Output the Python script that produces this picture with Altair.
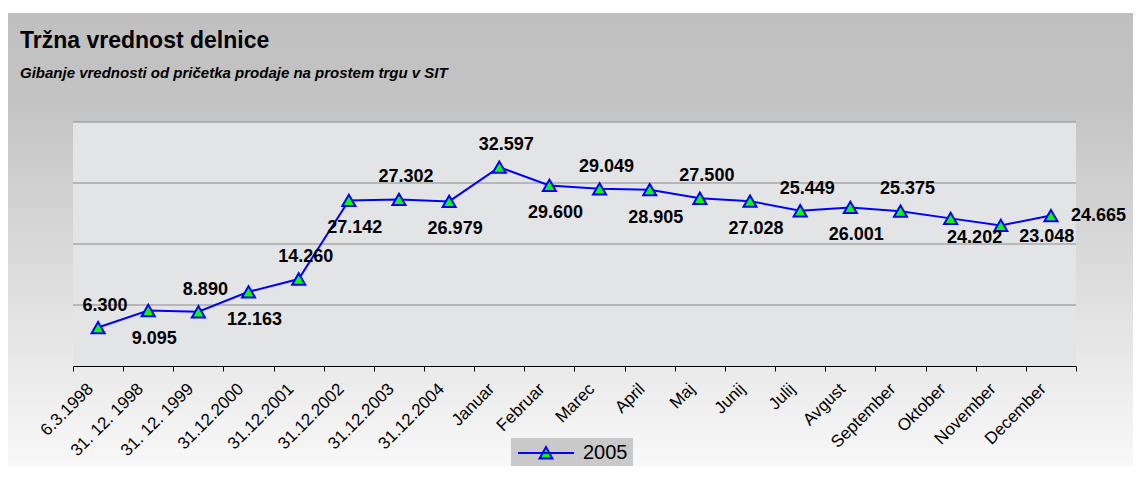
import altair as alt
import pandas as pd

categories = ["6.3.1998", "31. 12. 1998", "31. 12. 1999", "31.12.2000", "31.12.2001",
              "31.12.2002", "31.12.2003", "31.12.2004", "Januar", "Februar", "Marec",
              "April", "Maj", "Junij", "Julij", "Avgust", "September", "Oktober",
              "November", "December"]
values = [6300, 9095, 8890, 12163, 14260, 27142, 27302, 26979, 32597, 29600, 29049,
          28905, 27500, 27028, 25449, 26001, 25375, 24202, 23048, 24665]
label_place = ["above", "below", "above", "below", "above", "below", "above", "below",
               "above", "below", "above", "below", "above", "below", "above", "below",
               "above", "below2", "below3", "right"]
series_name = "2005"
grid_values = [10000, 20000, 30000, 40000]

df = pd.DataFrame({
    "cat": categories,
    "value": values,
    "label": [f"{v:,}".replace(",", ".") for v in values],
    "place": label_place,
    "series": [series_name] * len(values),
})
grid_df = pd.DataFrame({"g": grid_values})

W, H = 1003, 244
FONT = "Liberation Sans"

x_enc = alt.X("cat:N", sort=categories,
              scale=alt.Scale(paddingInner=0, paddingOuter=0),
              axis=alt.Axis(title=None, labelAngle=-45, labelAlign="right",
                            labelBaseline="middle", labelFontSize=17, labelFont=FONT,
                            labelColor="black", domainColor="#000000", tickColor="#000000",
                            tickSize=5, tickBand="extent", grid=False, zindex=1,
                            labelOffset=-8, labelPadding=15))
y_scale = alt.Scale(domain=[0, 40000], nice=False, zero=True)
y_enc = alt.Y("value:Q", scale=y_scale, axis=None)

base = alt.Chart(df)

bg = base.mark_rect(
    clip=False,
    fill=alt.Gradient(gradient="linear",
                      stops=[alt.GradientStop(color="#c0c0c0", offset=0),
                             alt.GradientStop(color="#c3c3c3", offset=0.18),
                             alt.GradientStop(color="#fafafa", offset=1)],
                      x1=0, x2=0, y1=0, y2=1),
).encode(x=alt.value(-66), x2=alt.value(W + 60), y=alt.value(-109), y2=alt.value(H + 113))

plot_bg = base.mark_rect(fill="#e3e4e6").encode(
    x=alt.value(0), x2=alt.value(W), y=alt.value(0), y2=alt.value(H))

grid = alt.Chart(grid_df).mark_rule(color="#8a8a8a", strokeWidth=1).encode(
    y=alt.Y("g:Q", scale=y_scale, axis=None))

line = base.mark_line(color="#0000ff", strokeWidth=2).encode(x=x_enc, y=y_enc)

points = base.mark_point(shape="triangle-up", filled=True, fill="#00ff00",
                         strokeWidth=2, size=170, opacity=1).encode(
    x=alt.X("cat:N", sort=categories),
    y=y_enc,
    stroke=alt.Stroke("series:N", scale=alt.Scale(range=["#0000ff"]),
                      legend=alt.Legend(orient="none", legendX=438, legendY=316, title=None,
                                        symbolType="M-3.5,0H3.5M-0.8,0.7L0,-0.75L0.8,0.7Z",
                                        symbolSize=256, symbolStrokeWidth=2,
                                        symbolFillColor="#00ff00", symbolStrokeColor="#0000ff",
                                        symbolOffset=20,
                                        labelFontSize=20, labelFont=FONT, labelColor="black",
                                        fillColor="#c9c9c9", padding=5, labelOffset=27)),
)

def labels(place, dx, dy, align="center"):
    return base.transform_filter(alt.datum.place == place).mark_text(
        font=FONT, fontSize=18, fontWeight="bold", color="black",
        align=align, baseline="middle", dx=dx, dy=dy,
    ).encode(x=alt.X("cat:N", sort=categories), y=y_enc, text="label:N")

chart = alt.layer(
    bg, plot_bg, grid, line, points,
    labels("above", 7, -22), labels("below", 6, 28),
    labels("below2", 24, 20), labels("below3", 46, 12),
    labels("right", 20, 0, "left"),
).properties(
    width=W, height=H,
    title=alt.TitleParams(
        text="Tržna vrednost delnice",
        subtitle="Gibanje vrednosti od pričetka prodaje na prostem trgu v SIT",
        anchor="start", frame="group", dx=-53, offset=-68,
        font=FONT, fontSize=23, fontWeight="bold", color="black",
        subtitleFont=FONT, subtitleFontSize=15, subtitleFontWeight="bold",
        subtitleFontStyle="italic", subtitleColor="black", subtitlePadding=13,
    ),
    autosize=alt.AutoSizeParams(type="none"),
    padding={"left": 65, "top": 114, "right": 57, "bottom": 100},
).configure(background="white").configure_view(stroke=None)

chart.save("out.html", embed_options={"renderer": "svg", "actions": False})
